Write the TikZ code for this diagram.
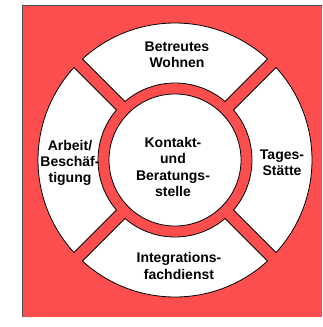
\documentclass[tikz,border=0pt]{standalone}
\usepackage{fontspec}
\setmainfont{Liberation Sans}
\definecolor{ringred}{RGB}{252,78,78}
\begin{document}
\begin{tikzpicture}[x=1pt,y=-1pt,
    Seg/.style={fill=white,draw=black,line width=0.8pt,line join=round},
    Label/.style={align=center,font=\fontsize{14}{16.3}\selectfont\bfseries,inner sep=0pt}]
    \useasboundingbox (0,0) rectangle (322,327);
    \fill[ringred] (22,5) rectangle (322,317);
    \draw[gray!60!black] (22,317) -- (22,5) -- (322,5);
    \coordinate (c) at (175,160);
    % outer ring, cut into four parts
    \foreach \a in {0,90,180,270}
      \draw[Seg,shift={(c)}] ({\a-45+asin(6/137)}:137pt)
        arc[start angle={\a-45+asin(6/137)}, end angle={\a+45-asin(6/137)}, radius=137pt]
        -- ({\a+45-asin(6/77)}:77pt)
        arc[start angle={\a+45-asin(6/77)}, end angle={\a-45+asin(6/77)}, radius=77pt]
        -- cycle;
    \node[Seg,circle,minimum size=132pt,inner sep=0pt] (hub) at (c) {};
    \node[Label] (kontakt) at (173,167) {Kontakt-\\und\\Beratungs-\\stelle};
    \node[Label] (wohnen) at (177,55) {Betreutes\\Wohnen};
    \node[Label] (arbeit) at (70,163) {Arbeit/\\Beschäf-\\tigung};
    \node[Label] (tages) at (282,163) {Tages-\\Stätte};
    \node[Label] (integration) at (179,266) {Integrations-\\fachdienst};
\end{tikzpicture}
\end{document}
